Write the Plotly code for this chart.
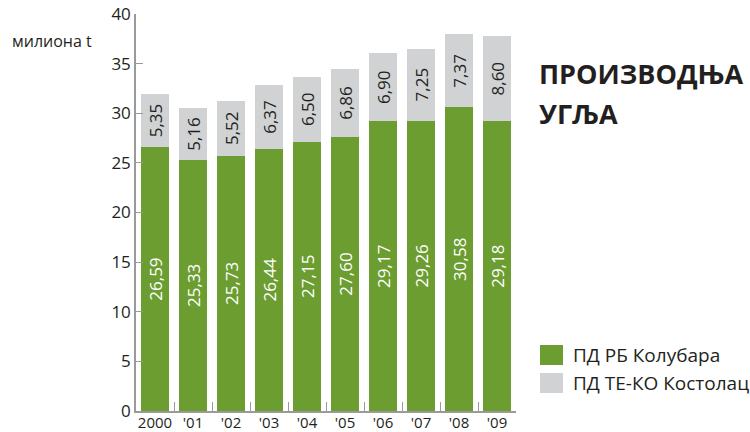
import plotly.graph_objects as go

years = ["2000", "'01", "'02", "'03", "'04", "'05", "'06", "'07", "'08", "'09"]
kolubara = [26.59, 25.33, 25.73, 26.44, 27.15, 27.60, 29.17, 29.26, 30.58, 29.18]
kostolac = [5.35, 5.16, 5.52, 6.37, 6.50, 6.86, 6.90, 7.25, 7.37, 8.60]
series_names = ["ПД РБ Колубара", "ПД ТЕ-КО Костолац"]
title_lines = ["ПРОИЗВОДЊА", "УГЉА"]
unit_label = "милиона t"

GREEN = "#6b9d31"
GRAY = "#d1d2d4"
DARK = "#231f20"
FONT = "Open Sans"

L, R, T, B = 136, 516, 14, 411
W, H = 750, 432

def px(x):
    return (x - L) / (R - L)

def py(y):
    return (B - y) / (B - T)

fig = go.Figure()
fig.add_bar(x=years, y=kolubara, name=series_names[0], marker_color=GREEN,
            marker_line_width=0,
            texttemplate="%{y:.2f}", textposition="inside", textangle=-90,
            insidetextanchor="middle", constraintext="none",
            insidetextfont=dict(color="white", size=17, family=FONT))
fig.add_bar(x=years, y=kostolac, name=series_names[1], marker_color=GRAY,
            marker_line_width=0,
            texttemplate="%{y:.2f}", textposition="inside", textangle=-90,
            insidetextanchor="middle", constraintext="none",
            insidetextfont=dict(color=DARK, size=17, family=FONT))

fig.update_layout(
    barmode="stack", bargap=0.26, separators=",.",
    width=W, height=H, margin=dict(l=L, r=W - R, t=T, b=H - B, autoexpand=False),
    paper_bgcolor="white", plot_bgcolor="white",
    font=dict(family=FONT, color=DARK, size=14),
    showlegend=False,
)
fig.update_yaxes(range=[0, 40], dtick=5, showgrid=False, zeroline=False,
                 showline=True, linecolor="#9a9a9a", linewidth=1.5,
                 ticks="inside", ticklen=7, tickcolor="#9a9a9a", automargin=False,
                 tickfont=dict(size=17, color=DARK, family=FONT))
fig.update_xaxes(showgrid=False, showline=True, linecolor="#9a9a9a", linewidth=1.5,
                 ticks="inside", tickson="boundaries", ticklen=9, tickcolor="#9a9a9a",
                 tickangle=0, automargin=False, ticklabelstandoff=-3,
                 tickfont=dict(size=15, color=DARK, family=FONT))

fig.add_annotation(xref="paper", yref="paper", x=px(10), y=py(41), xanchor="left",
                   yanchor="middle", showarrow=False, text=unit_label,
                   font=dict(size=16, color=DARK, family=FONT))
for line, yy in zip(title_lines, [74, 113]):
    fig.add_annotation(xref="paper", yref="paper", x=px(537), y=py(yy), xanchor="left",
                       yanchor="middle", showarrow=False, text="<b>" + line + "</b>",
                       font=dict(size=27, color=DARK, family=FONT))

leg_y = [355, 383]
for name, col, yy in zip(series_names, [GREEN, GRAY], leg_y):
    fig.add_shape(type="rect", xref="paper", yref="paper",
                  x0=px(540), x1=px(563), y0=py(yy + 10), y1=py(yy - 10),
                  fillcolor=col, line_width=0)
    fig.add_annotation(xref="paper", yref="paper", x=px(571),
                       y=py(yy), xanchor="left", yanchor="middle",
                       showarrow=False, text=name,
                       font=dict(size=19, color=DARK, family=FONT))

fig.write_html("out.html", config={"displayModeBar": False},
               post_script="document.body.style.margin='0';document.body.style.overflow='hidden';")
